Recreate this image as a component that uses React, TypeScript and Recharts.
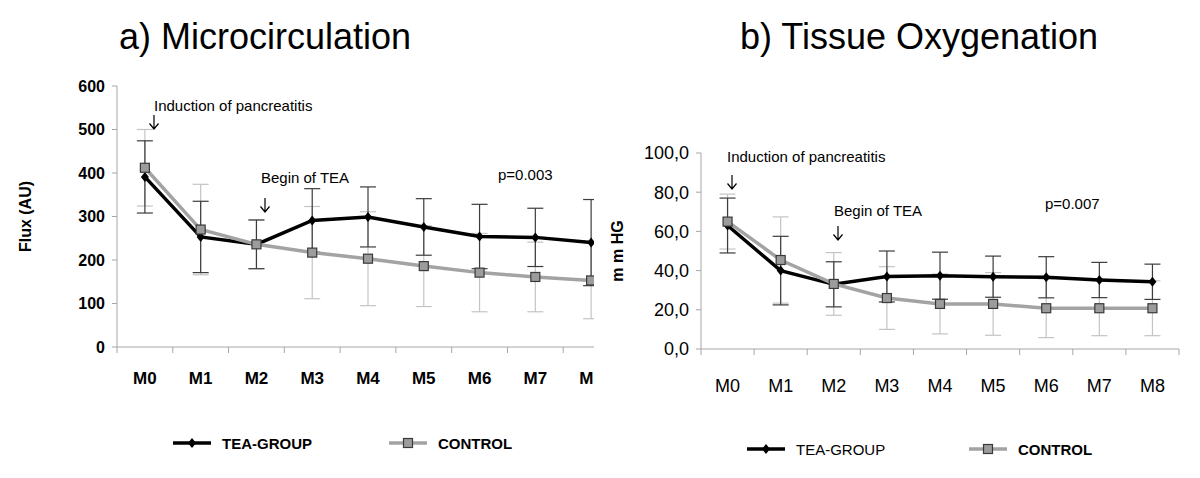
import { LineChart, Line, XAxis, YAxis, ErrorBar } from 'recharts';

const months = ['M0', 'M1', 'M2', 'M3', 'M4', 'M5', 'M6', 'M7', 'M8'];

// a) microcirculation, flux (AU)
const fluxTea = [391, 253, 236, 291, 299, 276, 254, 252, 240];
const fluxTeaSd = [83, 82, 56, 73, 69, 65, 74, 67, 99];
const fluxControl = [412, 270, 236, 217, 203, 186, 171, 161, 153];
const fluxControlSd = [88, 104, 56, 106, 108, 93, 90, 80, 88];
const fluxTicks = [0, 100, 200, 300, 400, 500, 600];

// b) tissue oxygenation, mmHg
const oxyTea = [63, 40, 33, 37, 37.4, 36.9, 36.6, 35.2, 34.3];
const oxyTeaSd = [14, 17.5, 11.5, 13, 12, 10.5, 10.5, 9, 9];
const oxyControl = [65, 45.4, 33.2, 26, 23, 23, 20.8, 20.8, 20.8];
const oxyControlSd = [14, 22, 16, 16, 15.3, 16, 15, 14, 14];
const oxyTicks = [0, 20, 40, 60, 80, 100];

const FONT = "'Liberation Sans', Arial, sans-serif";
const AXIS = '#a6a6a6';

const build = (tea: number[], teaSd: number[], ctrl: number[], ctrlSd: number[]) =>
  months.map((m, i) => ({ idx: i, name: m, tea: tea[i], teaSd: teaSd[i], ctrl: ctrl[i], ctrlSd: ctrlSd[i] }));

const fluxData = build(fluxTea, fluxTeaSd, fluxControl, fluxControlSd);
const oxyData = build(oxyTea, oxyTeaSd, oxyControl, oxyControlSd);

// ticks on category borders (tick marks) and centres (labels)
const xTicks: number[] = [];
for (let i = 0; i <= months.length * 2; i++) xTicks.push(i / 2 - 0.5);

const Diamond = (p: any) => {
  const { cx, cy } = p;
  if (cx == null || cy == null) return <g key={p.key} />;
  return <polygon key={p.key} points={`${cx},${cy - 5} ${cx + 4},${cy} ${cx},${cy + 5} ${cx - 4},${cy}`} fill="#000" />;
};

const Square = (p: any) => {
  const { cx, cy } = p;
  if (cx == null || cy == null) return <g key={p.key} />;
  return <rect key={p.key} x={cx - 4.5} y={cy - 4.5} width={9} height={9} fill="#9c9c9c" stroke="#3a3a3a" strokeWidth={1.2} />;
};

const makeXTick = (bold: boolean, dy: number, size: number) => (p: any) => {
  const { x, y, payload } = p;
  const v = payload.value;
  if (!Number.isInteger(v)) return <line x1={x} x2={x} y1={y} y2={y + 6} stroke={AXIS} />;
  return (
    <text x={x} y={y + dy} textAnchor="middle" dominantBaseline="central" fontFamily={FONT}
      fontSize={size} fontWeight={bold ? 'bold' : 'normal'} fill="#000">
      {months[v]}
    </text>
  );
};

type PanelProps = {
  data: any[];
  left: number;
  width: number;
  clip: number;
  margin: { top: number; right: number; bottom: number; left: number };
  yWidth: number;
  ticks: number[];
  max: number;
  yLabel: string;
  yLabelOffset: number;
  yBold: boolean;
  ySize: number;
  xBold: boolean;
  xDy: number;
  xSize: number;
  fmt: (v: number) => string;
};

const Panel = (p: PanelProps) => (
  <div style={{ position: 'absolute', left: p.left, top: 0, width: p.clip, height: 400, overflow: 'hidden' }}>
    <LineChart width={p.width} height={400} data={p.data} margin={p.margin}>
      <XAxis dataKey="idx" type="number" domain={[-0.5, months.length - 0.5]} ticks={xTicks} interval={0}
        tickSize={0} tickMargin={0} tickLine={false} axisLine={{ stroke: AXIS }} height={30}
        tick={makeXTick(p.xBold, p.xDy, p.xSize)} />
      <YAxis domain={[0, p.max]} ticks={p.ticks} width={p.yWidth} tickSize={5} tickMargin={7}
        axisLine={{ stroke: AXIS }} tickLine={{ stroke: AXIS }} tickFormatter={p.fmt}
        tick={{ fill: '#000', fontFamily: FONT, fontSize: p.ySize, fontWeight: p.yBold ? 'bold' : 'normal' }}
        label={{ value: p.yLabel, angle: -90, position: 'insideLeft', offset: p.yLabelOffset,
          style: { fontFamily: FONT, fontWeight: 'bold', fontSize: 16, fill: '#000', textAnchor: 'middle' } }} />
      {/* error bars first so they sit behind the lines */}
      <Line dataKey="ctrl" stroke="none" dot={false} activeDot={false} legendType="none" isAnimationActive={false}>
        <ErrorBar dataKey="ctrlSd" width={8} stroke="#c4c4c4" strokeWidth={1.2} direction="y" isAnimationActive={false} />
      </Line>
      <Line dataKey="tea" stroke="none" dot={false} activeDot={false} legendType="none" isAnimationActive={false}>
        <ErrorBar dataKey="teaSd" width={8} stroke="#3c3c3c" strokeWidth={1.2} direction="y" isAnimationActive={false} />
      </Line>
      <Line dataKey="tea" name="TEA-GROUP" stroke="#000" strokeWidth={3.5} dot={Diamond} activeDot={false} isAnimationActive={false} />
      <Line dataKey="ctrl" name="CONTROL" stroke="#a3a3a3" strokeWidth={3.5} dot={Square} activeDot={false} isAnimationActive={false} />
    </LineChart>
  </div>
);

const Text = ({ x, y, children, size = 15, bold = false }: any) => (
  <div style={{ position: 'absolute', left: x, top: y, transform: 'translateY(-50%)', fontFamily: FONT,
    fontSize: size, fontWeight: bold ? 'bold' : 'normal', whiteSpace: 'nowrap', lineHeight: 1, color: '#000' }}>
    {children}
  </div>
);

const Arrow = ({ x, y }: { x: number; y: number }) => (
  <svg style={{ position: 'absolute', left: x - 6, top: y }} width={12} height={16}>
    <path d="M6 0 V14 M1.5 8.5 L6 14 L10.5 8.5" stroke="#000" strokeWidth={1.2} fill="none" />
  </svg>
);

const LegendItem = ({ x, y, kind, label, bold }: any) => (
  <div style={{ position: 'absolute', left: x, top: y - 10, height: 20, display: 'flex', alignItems: 'center' }}>
    <svg width={40} height={20}>
      <line x1={1} x2={39} y1={10} y2={10} stroke={kind === 'tea' ? '#000' : '#a3a3a3'} strokeWidth={3.5} />
      {kind === 'tea' ? Diamond({ cx: 20, cy: 10 }) : Square({ cx: 20, cy: 10 })}
    </svg>
    <span style={{ marginLeft: 10, fontFamily: FONT, fontSize: 15, fontWeight: bold ? 'bold' : 'normal' }}>{label}</span>
  </div>
);

export default function App() {
  return (
    <div style={{ position: 'absolute', left: 0, top: 0, width: 1200, height: 478, background: '#fff', overflow: 'hidden' }}>
      <div style={{ position: 'absolute', left: 0, width: 530, top: 19, textAlign: 'center', fontFamily: FONT, fontSize: 36, lineHeight: 1 }}>
        a) Microcirculation
      </div>
      <div style={{ position: 'absolute', left: 600, width: 638, top: 19, textAlign: 'center', fontFamily: FONT, fontSize: 36, lineHeight: 1 }}>
        b) Tissue Oxygenation
      </div>

      <Panel data={fluxData} left={0} width={640} clip={594}
        margin={{ top: 86, right: 21, bottom: 23, left: 77 }} yWidth={40}
        ticks={fluxTicks} max={600} yLabel="Flux (AU)" yLabelOffset={-52} yBold ySize={16}
        xBold xDy={31} xSize={17} fmt={(v) => String(v)} />
      <Panel data={oxyData} left={600} width={600} clip={600}
        margin={{ top: 153, right: 21, bottom: 21, left: 51 }} yWidth={50}
        ticks={oxyTicks} max={100} yLabel="m m HG" yLabelOffset={-34} yBold={false} ySize={18}
        xBold={false} xDy={37} xSize={18} fmt={(v) => v.toFixed(1).replace('.', ',')} />

      <Text x={154} y={105}>Induction of pancreatitis</Text>
      <Arrow x={154} y={115} />
      <Text x={261} y={177}>Begin of TEA</Text>
      <Arrow x={265} y={198} />
      <Text x={498} y={174}>p=0.003</Text>

      <Text x={727} y={156}>Induction of pancreatitis</Text>
      <Arrow x={732} y={175} />
      <Text x={834} y={210}>Begin of TEA</Text>
      <Arrow x={838} y={226} />
      <Text x={1045} y={203}>p=0.007</Text>

      <LegendItem x={172} y={443} kind="tea" label="TEA-GROUP" bold />
      <LegendItem x={388} y={443} kind="ctrl" label="CONTROL" bold />
      <LegendItem x={746} y={449} kind="tea" label="TEA-GROUP" bold={false} />
      <LegendItem x={968} y={449} kind="ctrl" label="CONTROL" bold />
    </div>
  );
}
